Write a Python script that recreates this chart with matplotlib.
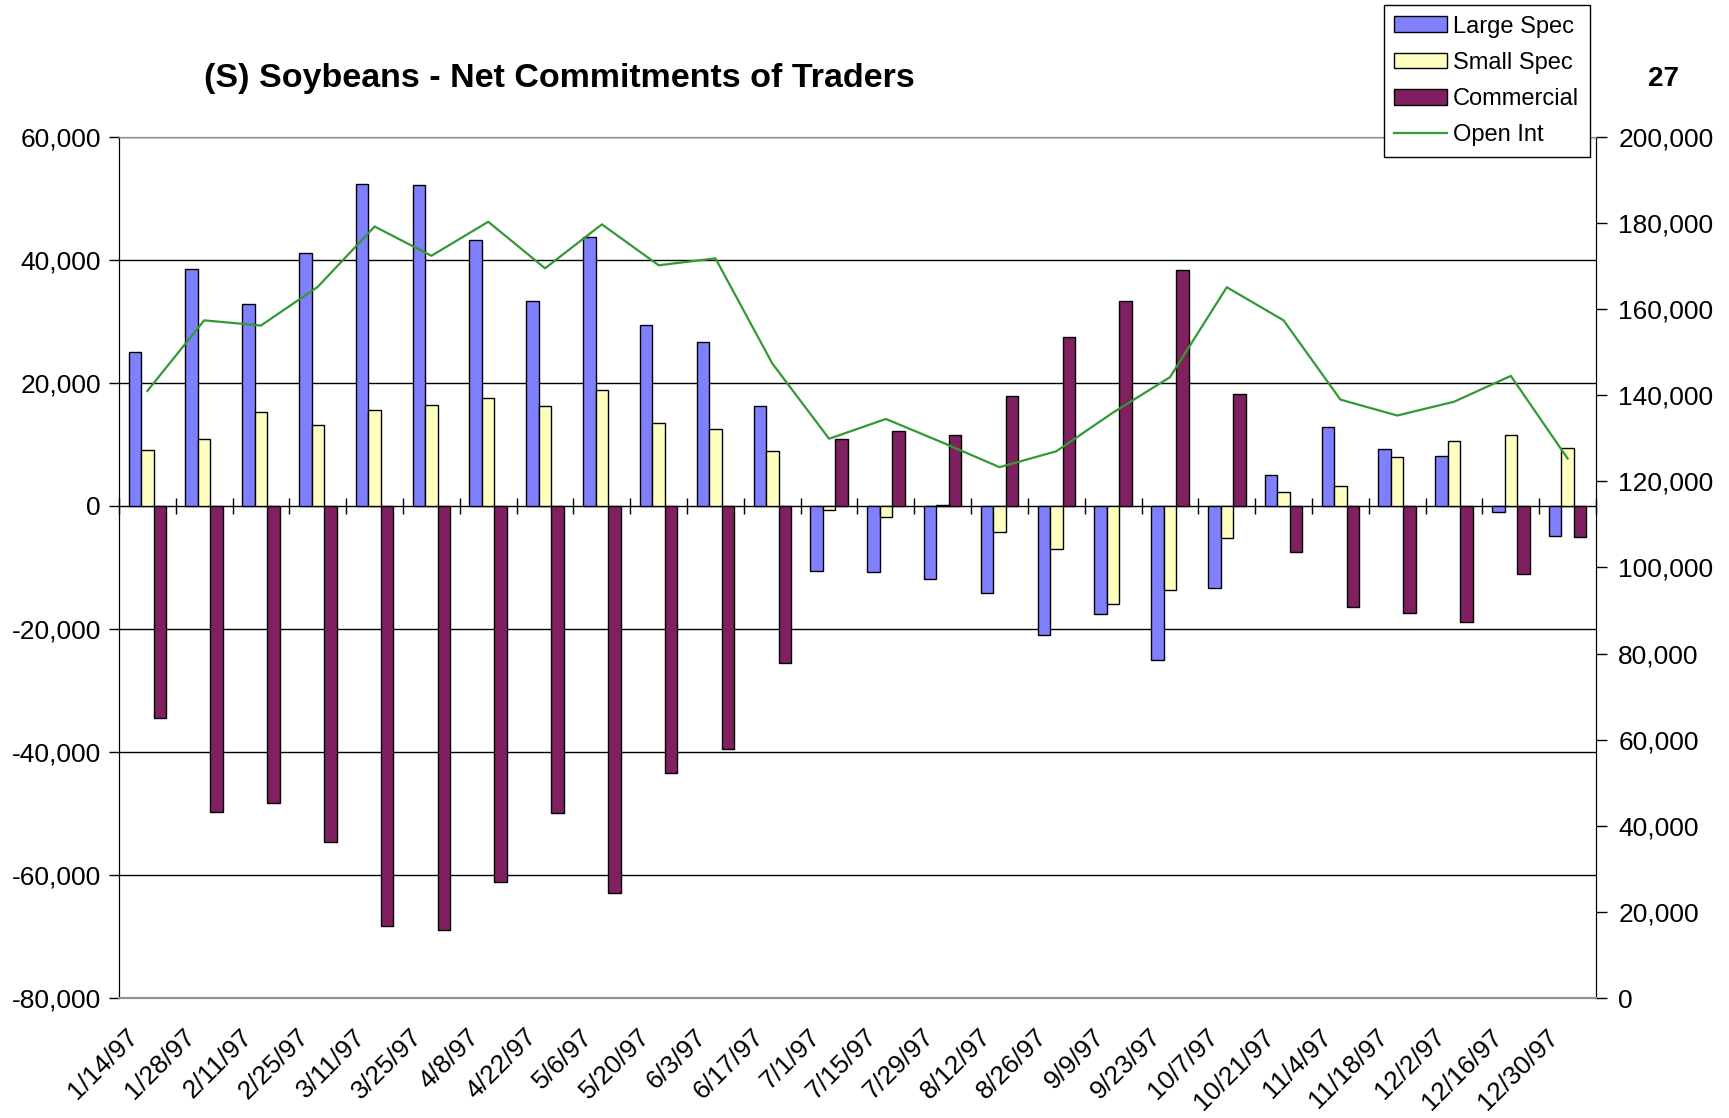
import matplotlib
matplotlib.use("Agg")
import matplotlib.pyplot as plt
import matplotlib.transforms as mtransforms
import numpy as np
from matplotlib.ticker import FuncFormatter, MultipleLocator

plt.rcParams["font.family"] = ["Liberation Sans", "DejaVu Sans"]

DATES = ["1/14/97", "1/28/97", "2/11/97", "2/25/97", "3/11/97", "3/25/97",
         "4/8/97", "4/22/97", "5/6/97", "5/20/97", "6/3/97", "6/17/97",
         "7/1/97", "7/15/97", "7/29/97", "8/12/97", "8/26/97", "9/9/97",
         "9/23/97", "10/7/97", "10/21/97", "11/4/97", "11/18/97", "12/2/97",
         "12/16/97", "12/30/97"]

LARGE_SPEC = [25100, 38500, 32800, 41200, 52300, 52200, 43200, 33300, 43700,
              29500, 26700, 16300, -10500, -10800, -11900, -14100, -21000,
              -17600, -25100, -13400, 5000, 12800, 9200, 8100, -950, -4800]
SMALL_SPEC = [9100, 10900, 15300, 13200, 15600, 16400, 17600, 16300, 18800,
              13500, 12450, 8900, -600, -1750, 200, -4300, -7050, -16000,
              -13600, -5200, 2200, 3300, 7900, 10500, 11600, 9500]
COMMERCIAL = [-34450, -49700, -48350, -54700, -68350, -68950, -61150, -49900,
              -62850, -43350, -39450, -25500, 10850, 12200, 11600, 17900,
              27550, 33300, 38350, 18200, -7450, -16400, -17400, -18800,
              -11050, -5000]
OPEN_INT = [141000, 157400, 156200, 165200, 179200, 172400, 180300, 169500,
            179700, 170200, 171800, 147400, 129900, 134500, 129000, 123300,
            127000, 136000, 144200, 165100, 157400, 139000, 135300, 138500,
            144500, 125300]

C_LARGE = "#8080FF"
C_SMALL = "#FFFFC0"
C_COMM = "#802060"
C_OI = "#339933"

FS_TICK = 19
FS_LEG = 17
YMIN, YMAX = -80000, 60000

fig = plt.figure(figsize=(17.29, 11.18), dpi=100)
ax = fig.add_axes([0.0688, 0.1073, 0.8543, 0.7702])
ax2 = ax.twinx()
ax.set_zorder(ax2.get_zorder() - 1)
ax.patch.set_visible(True)
ax2.patch.set_visible(False)

x = np.arange(len(DATES))
w = 0.22
b1 = ax.bar(x - w, LARGE_SPEC, w, color=C_LARGE, edgecolor="black", lw=1, label="Large Spec", zorder=3)
b2 = ax.bar(x, SMALL_SPEC, w, color=C_SMALL, edgecolor="black", lw=1, label="Small Spec", zorder=3)
b3 = ax.bar(x + w, COMMERCIAL, w, color=C_COMM, edgecolor="black", lw=1, label="Commercial", zorder=3)
ln, = ax2.plot(x, OPEN_INT, color=C_OI, lw=1.6, label="Open Int")

ax.set_xlim(-0.5, len(DATES) - 0.5)
ax.set_ylim(YMIN, YMAX)
ax.yaxis.set_major_locator(MultipleLocator(20000))
ax.yaxis.set_major_formatter(FuncFormatter(lambda v, p: f"{v:,.0f}"))
ax.grid(axis="y", color="black", lw=1, zorder=0)
ax.tick_params(axis="y", labelsize=FS_TICK, direction="out", length=7, width=1, pad=6)

ax.set_xticks(x)
ax.set_xticklabels(DATES, rotation=45, ha="right", va="top",
                   rotation_mode="anchor", fontsize=19)
ax.tick_params(axis="x", length=0, pad=19)
shift = mtransforms.ScaledTranslation(-21 / 100, 0, fig.dpi_scale_trans)
for lab in ax.get_xticklabels():
    lab.set_transform(lab.get_transform() + shift)

# category axis crossing at zero, with tick marks between groups
zero_frac = (0 - YMIN) / (YMAX - YMIN)
sec = ax.secondary_xaxis(zero_frac)
sec.set_xticks(np.arange(len(DATES) + 1) - 0.5)
sec.tick_params(direction="inout", length=12, width=1, labelbottom=False, labeltop=False)
sec.spines["bottom"].set_color("#606060")
sec.spines["bottom"].set_linewidth(1.5)
sec.spines["top"].set_visible(False)

ax2.set_ylim(0, 200000)
ax2.yaxis.set_major_locator(MultipleLocator(20000))
ax2.yaxis.set_major_formatter(FuncFormatter(lambda v, p: f"{v:,.0f}"))
ax2.tick_params(axis="y", labelsize=FS_TICK, direction="out", length=8, width=1, pad=8)

for a in (ax, ax2):
    a.spines["top"].set_color("#909090")
    a.spines["bottom"].set_color("#909090")
    a.spines["bottom"].set_linewidth(1.5)
    a.spines["left"].set_color("black")
    a.spines["right"].set_color("black")

fig.text(0.3235, 0.930, "(S) Soybeans - Net Commitments of Traders",
         ha="center", va="center", fontsize=24.5, fontweight="bold")
fig.text(0.962, 0.929, "27", ha="center", va="center", fontsize=20, fontweight="bold")

leg = fig.legend(handles=[b1, b2, b3, ln], loc="upper right",
                 bbox_to_anchor=(0.9196, 0.9955), fontsize=FS_LEG, frameon=True,
                 fancybox=False, edgecolor="black", framealpha=1,
                 handlelength=2.25, handleheight=0.65, handletextpad=0.25,
                 labelspacing=0.6, borderpad=0.45, borderaxespad=0)
leg.get_frame().set_linewidth(1)

fig.savefig("out.png", dpi=100)
